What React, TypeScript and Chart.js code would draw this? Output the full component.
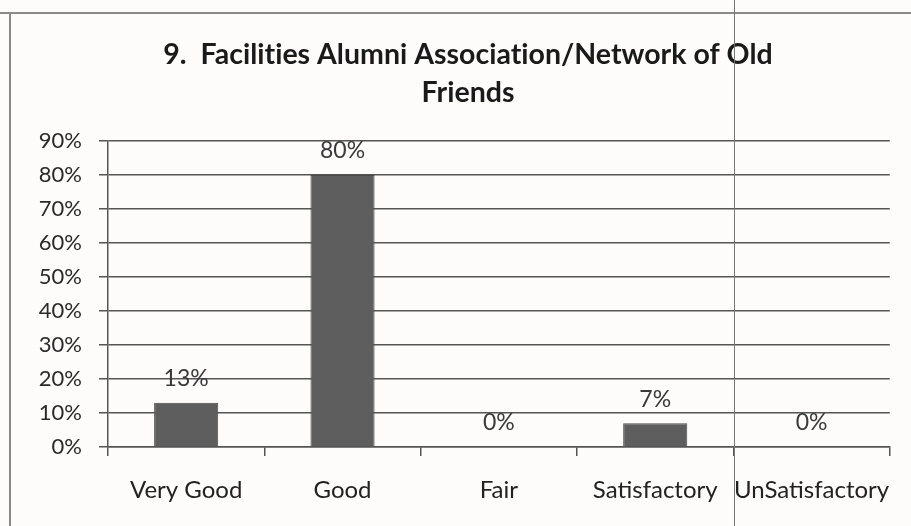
import React, { useEffect, useRef } from "react";
import { Chart, registerables } from "chart.js";

Chart.register(...registerables);

const categories = ["Very Good", "Good", "Fair", "Satisfactory", "UnSatisfactory"];
const values = [13, 80, 0, 7, 0];
const valueLabels = ["13%", "80%", "0%", "7%", "0%"];
const titleLines = ["9.  Facilities Alumni Association/Network of Old", "Friends"];

const FONT = "Lato, 'Open Sans', sans-serif";

const dataLabelPlugin = {
  id: "dataLabels",
  afterDatasetsDraw(chart: any) {
    const ctx = chart.ctx;
    const meta = chart.getDatasetMeta(0);
    ctx.save();
    ctx.font = `23px ${FONT}`;
    ctx.fillStyle = "#3a3a3a";
    ctx.textAlign = "center";
    ctx.textBaseline = "middle";
    meta.data.forEach((bar: any, i: number) => {
      ctx.fillText(valueLabels[i], bar.x, bar.y - 24);
    });
    ctx.restore();
  },
};

const titlePlugin = {
  id: "customTitle",
  afterDraw(chart: any) {
    const ctx = chart.ctx;
    ctx.save();
    ctx.font = `bold 28.5px ${FONT}`;
    (ctx as any).textRendering = "optimizeSpeed";
    (ctx as any).letterSpacing = "0.01px";
    ctx.fillStyle = "#1a1a1a";
    ctx.textAlign = "center";
    ctx.textBaseline = "middle";
    const cx = 468;
    titleLines.forEach((line, i) => {
      ctx.fillText(line, cx, 55 + i * 38);
    });
    ctx.restore();
  },
};

export default function App() {
  const ref = useRef<HTMLCanvasElement | null>(null);
  useEffect(() => {
    if (!ref.current) return;
    const chart = new Chart(ref.current, {
      type: "bar",
      data: {
        labels: categories,
        datasets: [
          {
            data: values,
            backgroundColor: "#5e5e5e",
            borderColor: "#4a4a4a",
            borderWidth: 1,
            categoryPercentage: 1,
            barPercentage: 0.41,
          },
        ],
      },
      options: {
        animation: false,
        responsive: false,
        maintainAspectRatio: false,
        layout: { padding: { left: 12, right: 18, top: 141, bottom: 10 } },
        plugins: {
          legend: { display: false },
          tooltip: { enabled: false },
          title: { display: false },
        },
        scales: {
          x: {
            grid: {
              display: true,
              drawOnChartArea: false,
              drawTicks: true,
              tickLength: 9,
              color: "#555",
              lineWidth: 1.5,
            },
            border: { display: true, color: "#555", width: 1.5 },
            ticks: {
              color: "#222",
              font: { family: FONT, size: 24 },
              padding: 20,
              maxRotation: 0,
              autoSkip: false,
            },
            afterFit(scale: any) {
              scale.height = 69;
            },
          },
          y: {
            min: 0,
            max: 90,
            grid: {
              color: "#555",
              lineWidth: 1.5,
              drawTicks: true,
              tickLength: 9,
            },
            border: { display: true, color: "#555", width: 1.5 },
            ticks: {
              stepSize: 10,
              color: "#2a2a2a",
              font: { family: FONT, size: 22 },
              padding: 17,
              callback: (v: any) => `${v}%`,
            },
            afterFit(scale: any) {
              scale.width = 96;
            },
          },
        },
      },
      plugins: [dataLabelPlugin, titlePlugin],
    });
    return () => chart.destroy();
  }, []);

  return (
    <div
      style={{
        position: "absolute",
        left: 0,
        top: 0,
        width: 911,
        height: 526,
        background: "#fdfcfb",
        overflow: "hidden",
      }}
    >
      <canvas ref={ref} width={911} height={526} style={{ display: "block" }} />
      <div style={{ position: "absolute", left: 0, top: 12, width: 911, height: 2, background: "#8a8a8a" }} />
      <div style={{ position: "absolute", left: 9, top: 12, width: 2, height: 514, background: "#8a8a8a" }} />
      <div style={{ position: "absolute", left: 734, top: 0, width: 1, height: 526, background: "#777" }} />
    </div>
  );
}
